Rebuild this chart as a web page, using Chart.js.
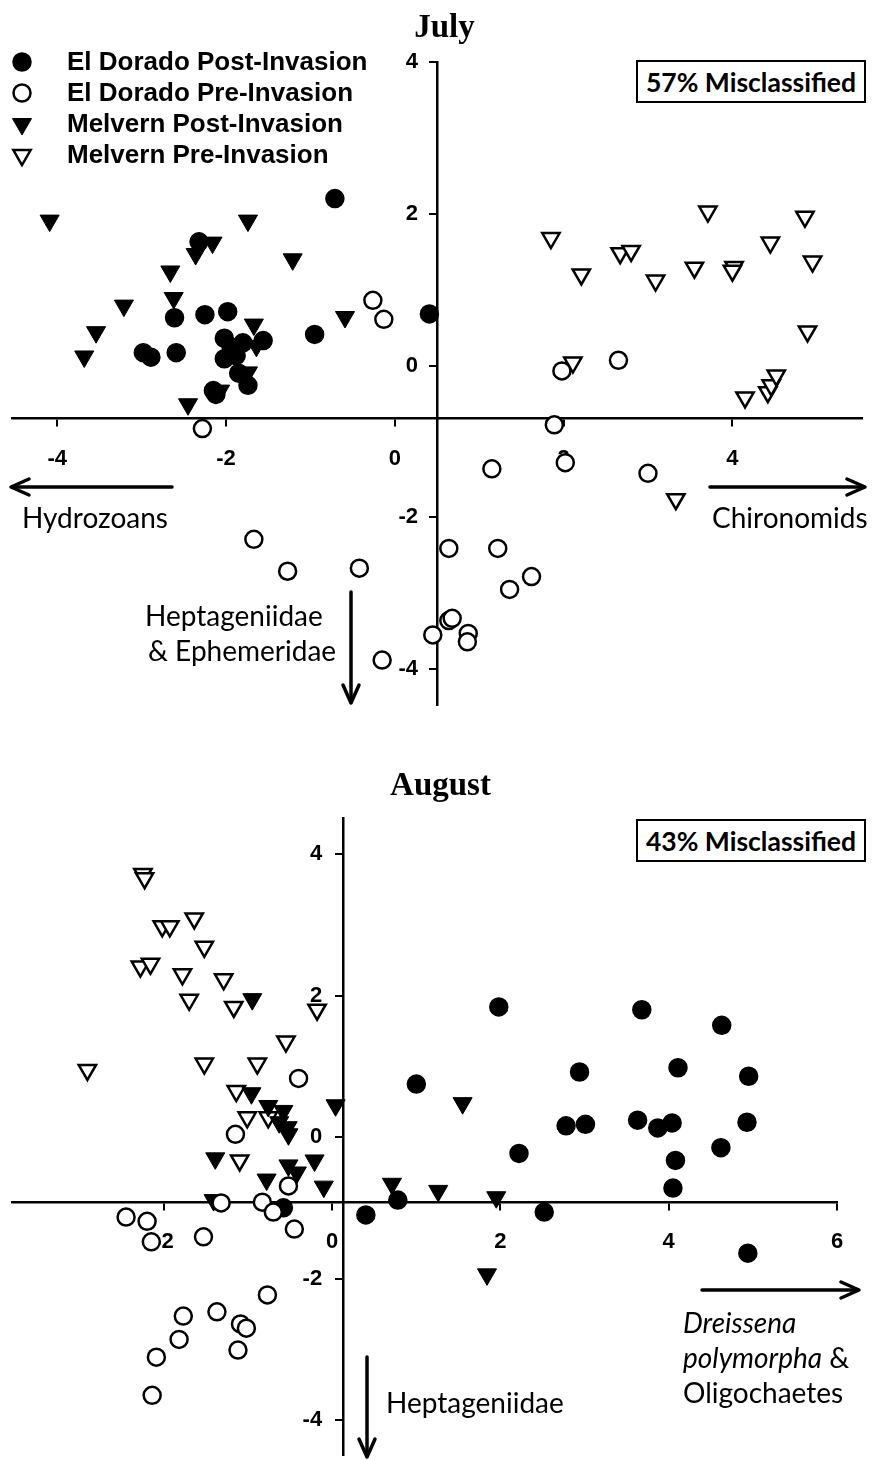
<!DOCTYPE html>
<html><head><meta charset="utf-8">
<script src="https://cdn.jsdelivr.net/npm/chart.js@4/dist/chart.umd.min.js"></script>
<style>
html,body{margin:0;padding:0;background:#fff;overflow:hidden;width:874px;height:1460px;}
#page{position:relative;width:874px;height:1460px;overflow:hidden;}
canvas{position:absolute;left:0;}
.t{position:absolute;font-family:Lato,"Open Sans",sans-serif;font-size:28px;line-height:32px;color:#000;white-space:nowrap;}
.box{position:absolute;border:2.5px solid #000;box-sizing:border-box;display:flex;align-items:center;justify-content:center;font-family:Lato,"Open Sans",sans-serif;font-weight:700;font-size:26.5px;color:#000;background:#fff;}
svg{position:absolute;left:0;top:0;pointer-events:none;}
</style></head><body><div id="page">
<canvas id="july" width="874" height="730" style="top:0"></canvas>
<canvas id="aug" width="874" height="740" style="top:740px"></canvas>
<svg width="874" height="1460" fill="none" stroke="#000" stroke-width="3.5" stroke-linecap="round" stroke-linejoin="round">
  <line x1="172" y1="487" x2="12" y2="487"/><polyline points="29,479 11,487 29,495"/>
  <line x1="710" y1="487" x2="864" y2="487"/><polyline points="847,479 865,487 847,495"/>
  <line x1="351" y1="592" x2="351" y2="702"/><polyline points="343,685 351,703 359,685"/>
  <line x1="702" y1="1290" x2="858" y2="1290"/><polyline points="841,1282 859,1290 841,1298"/>
  <line x1="367" y1="1357" x2="367" y2="1456"/><polyline points="359,1439 367,1457 375,1439"/>
</svg>
<div class="box" style="left:636px;top:60px;width:230px;height:43px">57% Misclassified</div>
<div class="box" style="left:636px;top:819px;width:230px;height:43px">43% Misclassified</div>
<div class="t" style="left:22px;top:501px">Hydrozoans</div>
<div class="t" style="left:712px;top:501px">Chironomids</div>
<div class="t" style="left:145px;top:599px">Heptageniidae</div>
<div class="t" style="left:148px;top:634px">&amp; Ephemeridae</div>
<div class="t" style="left:683px;top:1306px"><i>Dreissena</i></div>
<div class="t" style="left:683px;top:1341px"><i>polymorpha</i> &amp;</div>
<div class="t" style="left:683px;top:1376px">Oligochaetes</div>
<div class="t" style="left:386px;top:1386px">Heptageniidae</div>
</div>
<script>
// ---------- data ----------
const seriesLabels = ['El Dorado Post-Invasion', 'El Dorado Pre-Invasion', 'Melvern Post-Invasion', 'Melvern Pre-Invasion'];
const panelTitles = ['July', 'August'];

const julyXTicks = [-4, -2, 0, 2, 4];
const julyYTicks = [-4, -2, 0, 2, 4];
const augXTicks = [-2, 0, 2, 4, 6];
const augYTicks = [-4, -2, 0, 2, 4];

const julyElDoradoPost = [[-0.71,2.20],[-2.32,1.63],[-2.61,0.63],[-2.25,0.67],[-1.98,0.71],[0.41,0.68],[-0.95,0.41],[-2.98,0.17],[-2.89,0.11],[-2.59,0.17],[-2.02,0.36],[-1.80,0.30],[-1.56,0.33],[-1.94,0.24],[-2.02,0.09],[-1.88,0.13],[-1.85,-0.10],[-1.74,-0.26],[-2.15,-0.33],[-2.12,-0.38]];
const julyElDoradoPre = [[-0.26,0.86],[-0.13,0.61],[-2.28,-0.83],[1.98,-0.07],[2.65,0.07],[1.89,-0.78],[2.02,-1.28],[1.15,-1.36],[3.00,-1.42],[-1.67,-2.29],[-1.27,-2.71],[-0.42,-2.67],[-0.15,-3.88],[0.64,-2.41],[1.22,-2.41],[1.62,-2.78],[1.36,-2.95],[0.64,-3.36],[0.68,-3.33],[0.45,-3.55],[0.87,-3.53],[0.86,-3.64]];
const julyMelvernPost = [[-4.09,1.91],[-1.74,1.91],[-2.16,1.62],[-2.36,1.47],[-2.66,1.24],[-1.21,1.40],[-2.62,0.89],[-3.21,0.79],[-3.54,0.44],[-3.68,0.12],[-0.59,0.64],[-1.67,0.54],[-1.64,0.26],[-1.74,-0.09],[-2.07,-0.33],[-2.45,-0.51]];
const julyMelvernPre = [[1.85,1.68],[2.21,1.20],[2.67,1.48],[2.80,1.51],[3.09,1.12],[3.71,2.03],[3.55,1.29],[4.02,1.30],[4.00,1.25],[4.45,1.62],[4.86,1.96],[4.95,1.37],[4.89,0.45],[2.11,0.04],[4.15,-0.42],[4.42,-0.35],[4.46,-0.26],[4.52,-0.13],[3.33,-1.76]];

const augElDoradoPost = [[1.98,1.84],[3.68,1.80],[4.63,1.58],[1.00,0.75],[2.94,0.92],[4.11,0.98],[4.95,0.86],[2.78,0.16],[3.01,0.18],[3.63,0.24],[3.87,0.13],[4.04,0.20],[4.93,0.21],[2.22,-0.23],[4.62,-0.15],[4.08,-0.33],[4.05,-0.72],[0.78,-0.89],[0.40,-1.10],[2.52,-1.06],[4.94,-1.64],[-0.58,-1.00]];
const augElDoradoPre = [[-0.40,0.83],[-1.15,0.04],[-0.52,-0.69],[-2.45,-1.13],[-2.20,-1.19],[-2.15,-1.48],[-1.53,-1.41],[-1.32,-0.93],[-0.83,-0.92],[-0.70,-1.06],[-0.45,-1.30],[-0.77,-2.23],[-1.77,-2.53],[-1.37,-2.47],[-1.09,-2.64],[-1.02,-2.70],[-1.82,-2.86],[-1.12,-3.01],[-2.09,-3.11],[-2.14,-3.65]];
const augMelvernPost = [[-0.95,1.95],[-0.96,0.62],[-0.76,0.44],[-0.58,0.37],[-0.63,0.21],[-0.53,0.14],[-0.52,0.04],[0.04,0.45],[-1.39,-0.30],[-0.21,-0.33],[-0.52,-0.40],[-0.42,-0.50],[-0.78,-0.60],[-0.10,-0.70],[-1.41,-0.89],[1.55,0.48],[0.71,-0.66],[1.26,-0.76],[1.95,-0.85],[1.84,-1.94]];
const augMelvernPre = [[-2.25,3.72],[-2.23,3.66],[-2.02,2.98],[-1.93,2.98],[-1.64,3.09],[-1.52,2.69],[-2.28,2.41],[-2.16,2.45],[-1.78,2.30],[-1.29,2.23],[-1.70,1.94],[-1.17,1.84],[-0.18,1.80],[-0.55,1.35],[-2.91,0.95],[-1.52,1.04],[-0.89,1.04],[-1.14,0.65],[-1.01,0.28],[-0.76,0.28],[-1.10,-0.33]];

// ---------- styles ----------
const markerStyles = [
  {pointStyle:'circle', rotation:0, radius:9, bg:'#000', bw:1.5, order:1},
  {pointStyle:'circle', rotation:0, radius:8.5, bg:'#fff', bw:2.5, order:0},
  {pointStyle:'triangle', rotation:180, radius:11, bg:'#000', bw:1, order:2},
  {pointStyle:'triangle', rotation:180, radius:10, bg:'#fff', bw:2.5, order:3}
];

function makeDatasets(seriesList) {
  return seriesList.map((pts, i) => {
    const s = markerStyles[i];
    return {
      label: seriesLabels[i],
      data: pts.map(p => ({x: p[0], y: p[1]})),
      pointStyle: s.pointStyle,
      rotation: s.rotation,
      pointRotation: s.rotation,
      pointRadius: s.radius,
      pointHoverRadius: s.radius,
      backgroundColor: s.bg,
      borderColor: '#000',
      pointBorderWidth: s.bw,
      borderWidth: s.bw,
      showLine: false,
      order: s.order,
      clip: false
    };
  });
}

const tickFont = {family: '"Liberation Sans", Arial, sans-serif', size: 22, weight: 'bold'};

function scales(xRange, yRange, xAxisAtY, yAxisAtX, xTicks, yTicks) {
  const grid = {display: true, drawOnChartArea: false, drawTicks: true, tickLength: 7, color: '#000', lineWidth: 2};
  const border = {display: true, color: '#000', width: 2.5};
  return {
    x: {
      type: 'linear', min: xRange[0], max: xRange[1], position: {y: xAxisAtY},
      grid, border,
      ticks: {color: '#000', font: tickFont, padding: 20, maxRotation: 0, autoSkip: false, includeBounds: false, callback: v => String(v)},
      afterBuildTicks: s => { s.ticks = xTicks.filter(v => v >= s.min && v <= s.max).map(v => ({value: v})); }
    },
    y: {
      type: 'linear', min: yRange[0], max: yRange[1], position: {x: yAxisAtX},
      grid, border,
      ticks: {color: '#000', font: tickFont, padding: 12, autoSkip: false, includeBounds: false, callback: v => String(v)},
      afterBuildTicks: s => { s.ticks = yTicks.filter(v => v >= s.min && v <= s.max).map(v => ({value: v})); }
    }
  };
}

function drawMarker(ctx, d, x, y) {
  const r = d.pointRadius;
  ctx.save();
  ctx.fillStyle = d.backgroundColor;
  ctx.strokeStyle = d.borderColor;
  ctx.lineWidth = d.pointBorderWidth;
  ctx.beginPath();
  if (d.pointStyle === 'circle') {
    ctx.arc(x, y, r, 0, Math.PI * 2);
  } else {
    let rad = d.pointRotation * Math.PI / 180;
    for (let k = 0; k < 3; k++) {
      const px = x + Math.sin(rad) * r, py = y - Math.cos(rad) * r;
      if (k === 0) ctx.moveTo(px, py); else ctx.lineTo(px, py);
      rad += 2 * Math.PI / 3;
    }
    ctx.closePath();
  }
  ctx.fill();
  ctx.stroke();
  ctx.restore();
}

// legend drawn in the top-left corner from the datasets
const cornerLegend = {
  id: 'cornerLegend',
  afterDraw(chart, args, opts) {
    if (!opts || !opts.show) return;
    const ctx = chart.ctx;
    ctx.save();
    chart.data.datasets.forEach((d, i) => {
      const y = opts.top + i * opts.step;
      drawMarker(ctx, d, opts.markerX, y);
      ctx.fillStyle = '#000';
      ctx.font = 'bold 26px "Liberation Sans", Arial, sans-serif';
      ctx.textBaseline = 'middle';
      ctx.textAlign = 'left';
      ctx.fillText(d.label, opts.textX, y + 1);
    });
    ctx.restore();
  }
};

// keep y tick labels clear of the crossing axis, and nudge the title
const axisTweaks = {
  id: 'axisTweaks',
  afterLayout(chart, args, opts) {
    if (chart.titleBlock && opts.titleDx) {
      chart.titleBlock.left += opts.titleDx;
      chart.titleBlock.right += opts.titleDx;
    }
  },
  beforeDraw(chart, args, opts) {
    const s = chart.scales.y;
    const items = s.getLabelItems();
    items.forEach(it => {
      if (!it._moved) { it.options.translation[0] -= opts.yLabelDx; it._moved = true; }
    });
  }
};

function makeChart(id, title, seriesList, sc, layoutPad, titlePad, legendOpts, tweaks) {
  return new Chart(document.getElementById(id), {
    type: 'scatter',
    data: {datasets: makeDatasets(seriesList)},
    options: {
      responsive: false, animation: false, events: [],
      layout: {padding: layoutPad},
      scales: sc,
      plugins: {
        legend: {display: false},
        tooltip: {enabled: false},
        title: {display: true, text: title, color: '#000', padding: titlePad,
          font: {family: '"Liberation Serif", "Times New Roman", serif', size: 33, weight: 'bold'}},
        cornerLegend: legendOpts,
        axisTweaks: tweaks
      }
    },
    plugins: [cornerLegend, axisTweaks]
  });
}

makeChart('july', panelTitles[0],
  [julyElDoradoPost, julyElDoradoPre, julyMelvernPost, julyMelvernPre],
  scales([-4.53, 5.53], [-4.47, 4], -0.70, 0.5, julyXTicks, julyYTicks),
  {left: 10, right: 9, top: 0, bottom: 25},
  {top: 9, bottom: 13.4},
  {show: true, top: 62, step: 31, markerX: 22, textX: 67},
  {yLabelDx: 19, titleDx: 7});

makeChart('aug', panelTitles[1],
  [augElDoradoPost, augElDoradoPre, augMelvernPost, augMelvernPre],
  scales([-3.80, 6], [-4.49, 4.51], -0.92, 0.13, augXTicks, augYTicks),
  {left: 12, right: 37, top: 0, bottom: 25},
  {top: 27, bottom: 11.4},
  {show: false},
  {yLabelDx: 21, titleDx: 16});
</script>
</body></html>
